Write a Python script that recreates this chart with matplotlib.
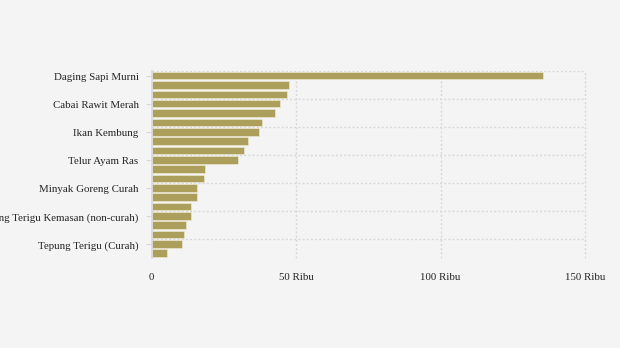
import matplotlib
matplotlib.use("Agg")
import matplotlib.pyplot as plt
import numpy as np
from matplotlib.ticker import FixedLocator
from matplotlib.transforms import ScaledTranslation

# Harga komoditas pangan (Rupiah per kg/liter)
komoditas = [
    "Daging Sapi Murni", "Cabai Merah Keriting", "Cabai Merah Besar",
    "Cabai Rawit Merah", "Bawang Merah", "Bawang Putih Bonggol",
    "Ikan Kembung", "Daging Ayam Ras", "Ikan Tongkol",
    "Telur Ayam Ras", "Gula Konsumsi", "Minyak Goreng Kemasan",
    "Minyak Goreng Curah", "Kedelai Biji Kering (Impor)", "Beras Premium",
    "Tepung Terigu Kemasan (non-curah)", "Beras Medium", "Beras SPHP",
    "Tepung Terigu (Curah)", "Jagung Tk Peternak",
]
harga = [
    135400, 47500, 46800, 44300, 42600, 38100, 37100, 33300, 31900, 30100,
    18400, 18000, 15900, 15600, 13500, 13500, 12100, 11400, 10400, 5500,
]
x_ticks = [0, 50000, 100000, 150000]
x_tick_labels = ["0", "50 Ribu", "100 Ribu", "150 Ribu"]
label_step = 3

bg = "#f4f4f4"
bar_color = "#ab9f5b"
grid_color = "#d9d9d9"

plt.rcParams["font.family"] = ["Liberation Serif", "DejaVu Serif"]

fig = plt.figure(figsize=(6.2, 3.48), dpi=100, facecolor=bg)
ax = fig.add_axes([151.5 / 620, 1 - 257.7 / 348, 433.5 / 620, 186.7 / 348])
ax.set_facecolor(bg)

y = np.arange(len(komoditas))
ax.barh(y, harga, height=0.82, color=bar_color, edgecolor="#f2eed8",
        linewidth=0.4, zorder=3)

ax.set_xlim(0, 150000)
ax.set_ylim(len(komoditas) - 0.5, -0.5)

# horizontal grid on category boundaries of every labelled group
for b in np.arange(-0.5, len(komoditas) - 1, label_step):
    ax.axhline(b, color=grid_color, lw=1.0, ls=(0, (1.5, 1.5)), zorder=1)
for xv in x_ticks[1:]:
    ax.axvline(xv, color=grid_color, lw=1.0, ls=(0, (1.5, 1.5)), zorder=1,
               clip_on=False)

ax.yaxis.set_major_locator(FixedLocator(y[::label_step]))
ax.set_yticklabels([komoditas[i] for i in y[::label_step]], fontsize=7.85,
                   color="#222222")
ax.tick_params(axis="y", length=4.3, width=0.8, color="#d8d8d8", pad=5)
shift = ScaledTranslation(0, -0.8 / 72, fig.dpi_scale_trans)
for lbl in ax.get_yticklabels():
    lbl.set_transform(lbl.get_transform() + shift)

ax.set_xticks(x_ticks)
ax.set_xticklabels(x_tick_labels, fontsize=7.85, color="#222222")
ax.tick_params(axis="x", length=0, pad=11)

for side in ("top", "right", "bottom"):
    ax.spines[side].set_visible(False)
ax.spines["left"].set_color("#d8d8d8")
ax.spines["left"].set_linewidth(1.2)
ax.spines["left"].set_zorder(4)

fig.savefig("out.png", dpi=100, facecolor=bg)
